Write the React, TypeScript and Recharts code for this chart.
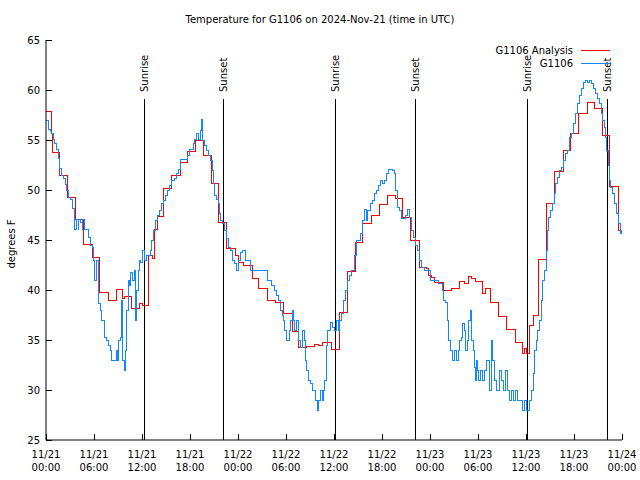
import { LineChart, Line, XAxis, YAxis, ReferenceLine, Legend } from 'recharts';

const FONT = '"DejaVu Sans", sans-serif';

// x is hours since 2024-11-21 00:00 UTC
const hourTicks = [0, 6, 12, 18, 24, 30, 36, 42, 48, 54, 60, 66, 72];
const tickDates = ['11/21', '11/21', '11/21', '11/21', '11/22', '11/22', '11/22', '11/22', '11/23', '11/23', '11/23', '11/23', '11/24'];
const tickTimes = ['00:00', '06:00', '12:00', '18:00', '00:00', '06:00', '12:00', '18:00', '00:00', '06:00', '12:00', '18:00', '00:00'];
const tempTicks = [25, 30, 35, 40, 45, 50, 55, 60, 65];
const legendOrder = ['G1106 Analysis', 'G1106'];

// G1106 Analysis (red)
const analysisHours = [
  0, 0.67, 0.79, 1.67, 2.67, 3.71, 4.67, 5.87, 6.63, 7.75, 8.75, 9.54, 9.75, 10.67, 11.67, 12.04,
  12.75, 13.25, 13.6, 13.9, 14.67, 15.67, 16.75, 17.67, 18.67, 19.67, 20.67, 21.58, 22.58, 23.7,
  24.0, 24.67, 25.75, 26.6, 27.67, 28.67, 29.7, 30.79, 31.5, 32.6, 33.6, 34.1, 34.6, 35.67, 36.67,
  37.67, 38.67, 39.6, 40.67, 41.67, 42.67, 43.67, 44.58, 45.58, 46.67, 47.6, 47.8, 48.17, 48.6,
  49.71, 50.67, 51.67, 52.3, 52.75, 53.2, 53.67, 54.58, 54.9, 55.6, 56.58, 57.58, 58.67, 59.58,
  59.8, 60.0, 60.42, 60.9, 61.58, 62.58, 63.6, 64.67, 65.6, 66.58, 67.67, 68.58, 69.58, 70.4,
  71.6, 72,
];
const analysisTemps = [
  57.9, 55.7, 53.8, 51.5, 49.3, 47.1, 44.6, 43.3, 39.8, 39.0, 40.1, 39.2, 39.4, 38.2, 38.7, 38.5,
  43.5, 43.2, 46.1, 47.4, 50.2, 51.5, 52.8, 53.9, 55.0, 53.5, 50.7, 46.8, 44.2, 43.5,
  42.8, 42.5, 41.2, 40.2, 39.0, 38.8, 37.7, 35.9, 34.3, 34.4, 34.6, 34.5, 34.8, 34.1, 37.8,
  41.9, 44.8, 46.7, 47.5, 48.6, 49.5, 49.2, 47.3, 45.0, 42.3, 42.2, 41.5, 41.3, 40.8,
  40.0, 40.2, 40.9, 40.7, 41.4, 41.2, 40.9, 39.7, 40.2, 38.8, 37.4, 36.1, 34.8, 33.7,
  34.2, 33.7, 36.5, 37.5, 43.1, 48.7, 51.9, 54.0, 55.7, 57.7, 58.8, 58.2, 55.5, 50.4,
  46.0, 46.0,
];

// G1106 observations (blue)
const obsHours = [
  0, 0.25, 0.5, 0.67, 0.92, 1.08, 1.33, 1.5, 1.67, 1.92, 2.17, 2.42, 2.58, 2.75, 3.08, 3.33, 3.5,
  3.6, 3.75, 4.0, 4.08, 4.33, 4.5, 4.58, 4.83, 5.25, 5.5, 5.75, 5.92, 6.08, 6.33, 6.5, 6.75, 6.92,
  7.08, 7.33, 7.58, 7.83, 8.0, 8.17, 8.75, 8.92, 9.08, 9.25, 9.42, 9.58, 9.75, 9.92, 10.08, 10.25,
  10.42, 10.58, 10.75, 11.0, 11.17, 11.33, 11.5, 11.67, 11.83, 12.08, 12.25, 12.5, 13.0, 13.17,
  13.42, 13.67, 13.92, 14.17, 14.42, 14.67, 14.92, 15.17, 15.42, 15.67, 16.0, 16.33, 16.58, 16.83,
  17.67, 17.92, 18.42, 18.58, 18.83, 19.0, 19.25, 19.42, 19.58, 19.83, 20.08, 20.33, 20.5, 20.75,
  20.92, 21.08, 21.33, 21.5, 21.67, 21.83, 22.08, 22.25, 22.5, 22.75, 23.0, 23.25, 23.5, 23.75,
  24.0, 24.25, 24.58, 24.92, 25.58, 27.67, 28.17, 28.5, 28.75, 29.0, 29.25, 29.5, 29.67, 29.83,
  30.0, 30.42, 30.58, 30.75, 30.92, 31.08, 31.33, 31.5, 31.83, 32.08, 32.25, 32.42, 32.58, 32.75,
  33.0, 33.25, 33.67, 33.92, 34.08, 34.25, 34.5, 34.67, 34.83, 35.0, 35.17, 35.58, 35.83, 36.0,
  36.25, 36.5, 36.67, 36.92, 37.17, 37.42, 37.67, 37.92, 38.17, 38.58, 38.75, 39.33, 39.58, 39.75,
  40.0, 40.17, 40.5, 40.75, 41.0, 41.25, 41.5, 41.75, 42.0, 42.25, 42.5, 42.75, 43.25, 43.5, 43.67,
  43.92, 44.17, 44.42, 44.92, 45.17, 45.42, 45.67, 45.92, 46.17, 46.42, 46.67, 46.92, 47.33, 48.08,
  49.08, 49.5, 49.67, 49.92, 50.17, 50.33, 50.58, 50.83, 51.08, 51.33, 51.5, 51.67, 51.92, 52.08,
  52.25, 52.42, 52.67, 52.83, 53.0, 53.17, 53.42, 53.58, 53.67, 53.83, 53.92, 54.08, 54.33, 54.58,
  54.83, 55.08, 55.42, 55.67, 55.83, 56.08, 56.33, 56.67, 56.92, 57.17, 57.42, 57.67, 57.92, 58.17,
  58.42, 58.67, 58.92, 59.5, 59.83, 60.08, 60.42, 60.67, 60.92, 61.08, 61.25, 61.42, 61.67, 61.92,
  62.08, 62.25, 62.5, 62.67, 62.83, 63.0, 63.25, 63.5, 63.67, 63.92, 64.17, 64.42, 64.67, 64.92,
  65.17, 65.42, 65.67, 65.92, 66.17, 66.42, 66.67, 66.92, 67.17, 67.42, 67.67, 67.92, 68.17, 68.42,
  68.67, 68.92, 69.17, 69.42, 69.58, 69.75, 69.92, 70.08, 70.25, 70.42, 70.58, 70.83, 71.0, 71.25,
  71.5, 71.75, 71.92, 72,
];
const obsTemps = [
  57.0, 56.1, 55.9, 55.7, 55.1, 54.7, 54.1, 53.2, 52.2, 51.5, 51.2, 50.6, 50.0, 49.3, 49.1, 48.2, 47.1,
  46.1, 47.1, 46.1, 47.1, 46.8, 46.1, 47.1, 46.1, 45.3, 44.5, 44.3, 43.0, 41.0, 43.0, 38.7, 38.0, 37.0,
  37.0, 35.3, 35.0, 34.5, 34.0, 33.0, 34.0, 33.0, 35.0, 35.3, 39.0, 33.0, 32.0, 34.0, 38.0, 41.0,
  40.5, 41.8, 41.0, 42.0, 37.0, 40.0, 42.0, 43.0, 42.8, 44.0, 43.0, 43.5, 44.0, 45.0,
  46.0, 47.0, 47.5, 48.0, 48.7, 49.0, 49.5, 50.0, 50.5, 51.0, 51.2, 51.7, 52.1, 53.1,
  53.5, 54.1, 54.7, 55.1, 55.7, 55.1, 56.0, 57.1, 55.0, 54.5, 54.0, 53.5, 53.0, 52.0,
  50.7, 49.5, 49.1, 48.7, 47.7, 47.0, 46.7, 46.0, 45.2, 44.3, 44.0, 43.0, 42.7, 42.0,
  43.0, 43.8, 44.0, 43.0, 42.0, 41.0, 40.5, 40.0, 39.5, 39.0, 38.0, 37.5, 37.0, 36.0,
  35.0, 36.0, 37.0, 38.0, 37.0, 36.0, 37.0, 35.0, 34.3, 36.0, 35.0, 33.0, 32.0, 31.0,
  30.7, 30.0, 29.0, 28.0, 29.0, 30.0, 29.0, 30.0, 31.0, 34.5, 36.0, 36.8, 36.3, 36.0,
  37.0, 36.0, 37.0, 37.7, 39.0, 40.0, 41.0, 41.5, 42.0, 43.5, 45.0, 45.7, 47.0, 48.1,
  47.0, 48.0, 48.7, 49.0, 49.7, 50.0, 50.5, 51.0, 50.7, 51.0, 51.7, 52.1, 52.0, 51.7, 50.0,
  48.3, 48.0, 47.2, 47.5, 48.1, 47.3, 46.0, 45.3, 44.5, 44.0, 43.0, 42.3, 42.0, 41.0,
  40.7, 40.0, 39.0, 38.8, 37.0, 35.0, 34.0, 33.0, 34.0, 33.0, 34.0, 35.0, 35.3, 36.7,
  36.0, 34.0, 35.0, 37.0, 38.0, 35.0, 34.0, 32.3, 31.0, 33.0, 32.0, 31.0, 32.0, 31.0,
  32.0, 33.0, 30.0, 35.0, 33.0, 31.0, 30.0, 32.0, 31.0, 30.0, 32.0, 30.0, 29.0, 30.0,
  29.0, 30.0, 29.0, 28.0, 29.0, 28.0, 29.0, 30.0, 31.7, 34.0, 35.0, 36.0, 37.0, 39.0,
  41.0, 42.0, 44.0, 46.0, 47.3, 48.0, 48.7, 49.7, 50.7, 51.3, 52.0, 52.3, 53.0, 53.7,
  54.0, 55.3, 55.7, 56.7, 57.7, 58.7, 59.5, 60.2, 60.8, 61.0, 60.8, 61.0, 60.7, 60.2,
  59.7, 59.2, 58.7, 57.7, 57.0, 56.3, 55.3, 54.0, 52.5, 51.0, 50.3, 49.7, 48.7, 47.7,
  46.7, 45.7, 46.0, 45.5,
];

const sunHours = [12.25, 22.17, 36.17, 46.15, 60.2, 70.2];
const sunLabels = ['Sunrise', 'Sunset', 'Sunrise', 'Sunset', 'Sunrise', 'Sunset'];
const sunLineTop = 59.1;

const analysisData = analysisHours.map((t, i) => ({ t, v: analysisTemps[i] }));
const obsData = obsHours.map((t, i) => ({ t, v: obsTemps[i] }));

const textStyle = { fontSize: 10, fontFamily: FONT, fill: '#000' };

const BottomTick = ({ x, y, payload }: any) => {
  const i = hourTicks.indexOf(payload.value);
  return (
    <g>
      <line x1={x} y1={y} x2={x} y2={y - 6} stroke="#000" shapeRendering="crispEdges" />
      <text x={x} y={y + 18} textAnchor="middle" {...textStyle}>
        <tspan x={x}>{tickDates[i]}</tspan>
        <tspan x={x} dy={13}>{tickTimes[i]}</tspan>
      </text>
    </g>
  );
};

const TopTick = ({ x, y }: any) => (
  <line x1={x} y1={y} x2={x} y2={y + 6} stroke="#000" shapeRendering="crispEdges" />
);

const LeftTick = ({ x, y, payload }: any) => (
  <g>
    <line x1={x} y1={y} x2={x + 6} y2={y} stroke="#000" shapeRendering="crispEdges" />
    <text x={x - 6} y={y} textAnchor="end" dominantBaseline="central" {...textStyle}>
      {payload.value}
    </text>
  </g>
);

const RightTick = ({ x, y }: any) => (
  <line x1={x} y1={y} x2={x - 6} y2={y} stroke="#000" shapeRendering="crispEdges" />
);

const SunLabel = ({ viewBox, text }: any) => {
  const x = viewBox?.x ?? 0;
  const y = (viewBox?.y ?? 0) - 7;
  return (
    <text x={x} y={y} transform={`rotate(-90 ${x} ${y})`} textAnchor="start" dominantBaseline="central" {...textStyle}>
      {text}
    </text>
  );
};

const YTitle = ({ viewBox }: any) => {
  const cx = (viewBox?.x ?? 0) + 11;
  const cy = (viewBox?.y ?? 0) + (viewBox?.height ?? 0) / 2 + 4;
  return (
    <text x={cx} y={cy} transform={`rotate(-90 ${cx} ${cy})`} textAnchor="middle" dominantBaseline="central" {...textStyle}>
      degrees F
    </text>
  );
};

// gnuplot lists the keys in plot order: analysis first, then the station
const LegendBox = ({ payload }: any) => {
  const entries = [...(payload || [])].sort(
    (a: any, b: any) => legendOrder.indexOf(a.value) - legendOrder.indexOf(b.value)
  );
  return (
    <div style={{ fontFamily: FONT, fontSize: 10, color: '#000' }}>
      {entries.map((entry: any) => (
        <div key={entry.value} style={{ display: 'flex', justifyContent: 'flex-end', alignItems: 'center', height: 13 }}>
          <span>{entry.value}</span>
          <svg width={37} height={13} style={{ display: 'block' }}>
            <line x1={8} x2={37} y1={6.5} y2={6.5} stroke={entry.color} />
          </svg>
        </div>
      ))}
    </div>
  );
};

export default function App() {
  return (
    <div style={{ position: 'absolute', left: 0, top: 0, width: 640, height: 480, background: '#fff' }}>
      <div style={{ position: 'absolute', top: 14, left: 0, width: 640, textAlign: 'center', fontFamily: FONT, fontSize: 10, lineHeight: '12px' }}>
        Temperature for G1106 on 2024-Nov-21 (time in UTC)
      </div>
      <LineChart width={640} height={480} margin={{ top: 40, right: 18, bottom: 0, left: 0 }}>
        <XAxis
          dataKey="t"
          type="number"
          domain={[0, 72]}
          ticks={hourTicks}
          interval={0}
          height={40}
          tickSize={0}
          tickMargin={0}
          tick={<BottomTick />}
          axisLine={{ stroke: '#000' }}
          allowDataOverflow
        />
        <XAxis
          xAxisId="top"
          orientation="top"
          dataKey="t"
          type="number"
          domain={[0, 72]}
          ticks={hourTicks}
          interval={0}
          height={0}
          tickSize={0}
          tickMargin={0}
          tick={<TopTick />}
          axisLine={{ stroke: '#000' }}
          allowDataOverflow
        />
        <YAxis
          type="number"
          domain={[25, 65]}
          ticks={tempTicks}
          interval={0}
          width={46}
          tickSize={0}
          tickMargin={0}
          tick={<LeftTick />}
          axisLine={{ stroke: '#000' }}
          label={<YTitle />}
          allowDataOverflow
        />
        <YAxis
          yAxisId="right"
          orientation="right"
          type="number"
          domain={[25, 65]}
          ticks={tempTicks}
          interval={0}
          width={0}
          tickSize={0}
          tickMargin={0}
          tick={<RightTick />}
          axisLine={{ stroke: '#000' }}
          allowDataOverflow
        />
        {sunHours.map((h, i) => (
          <ReferenceLine
            key={i}
            segment={[{ x: h, y: sunLineTop }, { x: h, y: 25 }]}
            stroke="#000"
            shapeRendering="crispEdges"
            label={<SunLabel text={sunLabels[i]} />}
          />
        ))}
        <Line
          data={analysisData}
          dataKey="v"
          name="G1106 Analysis"
          type="stepAfter"
          stroke="#ff0000"
          strokeWidth={1}
          dot={false}
          activeDot={false}
          shapeRendering="crispEdges"
          isAnimationActive={false}
        />
        <Line
          data={obsData}
          dataKey="v"
          name="G1106"
          type="stepAfter"
          stroke="#1088ff"
          strokeWidth={1}
          dot={false}
          activeDot={false}
          shapeRendering="crispEdges"
          isAnimationActive={false}
        />
        <Legend
          layout="vertical"
          align="center"
          verticalAlign="middle"
          wrapperStyle={{ left: 460, top: 44, width: 150 }}
          content={<LegendBox />}
        />
      </LineChart>
    </div>
  );
}
